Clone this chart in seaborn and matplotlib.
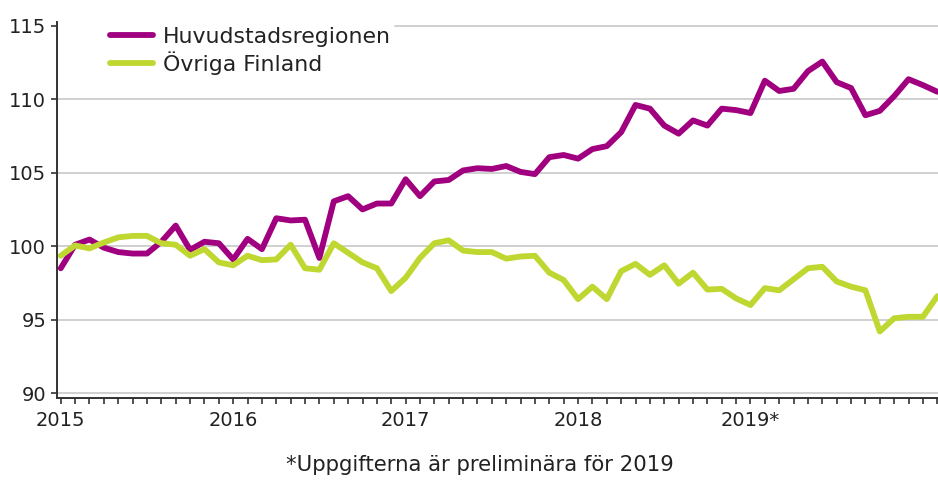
import pandas as pd
import seaborn as sns
import matplotlib.pyplot as plt

# monthly index values, Jan 2015 onwards
huvudstad = [98.5, 100.1, 100.45, 99.9, 99.6, 99.5, 99.5, 100.3, 101.4, 99.75,
             100.3, 100.2, 99.1, 100.5, 99.8, 101.9, 101.75, 101.8, 99.2, 103.05,
             103.4, 102.5, 102.9, 102.9, 104.55, 103.4, 104.4, 104.5, 105.15, 105.3,
             105.25, 105.45, 105.05, 104.9, 106.05, 106.2, 105.95, 106.6, 106.8, 107.75,
             109.6, 109.35, 108.2, 107.65, 108.55, 108.2, 109.35, 109.25, 109.05, 111.25,
             110.55, 110.7, 111.9, 112.55, 111.15, 110.75, 108.9, 109.2, 110.2, 111.35,
             110.95, 110.5]
ovriga = [99.35, 100.05, 99.85, 100.25, 100.6, 100.7, 100.7, 100.2, 100.1, 99.35,
          99.8, 98.9, 98.7, 99.35, 99.05, 99.1, 100.1, 98.5, 98.4, 100.2,
          99.55, 98.9, 98.5, 96.95, 97.85, 99.2, 100.2, 100.4, 99.7, 99.6,
          99.6, 99.15, 99.3, 99.35, 98.2, 97.7, 96.4, 97.25, 96.4, 98.3,
          98.8, 98.05, 98.7, 97.45, 98.2, 97.05, 97.1, 96.45, 96.0, 97.15,
          97.0, 97.75, 98.5, 98.6, 97.6, 97.25, 97.0, 94.2, 95.1, 95.2,
          95.2, 96.6]

series_names = ["Huvudstadsregionen", "Övriga Finland"]
year_labels = ["2015", "2016", "2017", "2018", "2019*"]
y_ticks = [90, 95, 100, 105, 110, 115]
footnote = "*Uppgifterna är preliminära för 2019"

months = list(range(len(huvudstad)))
df = pd.DataFrame({
    "month": months * 2,
    "value": huvudstad + ovriga,
    "series": [series_names[0]] * len(huvudstad) + [series_names[1]] * len(ovriga),
})

sns.set_style("white")
plt.rcParams["font.family"] = ["DejaVu Sans"]
plt.rcParams["text.color"] = "#222222"

fig = plt.figure(figsize=(9.38, 4.8), dpi=100)
ax = fig.add_axes([57.3 / 938, 82 / 480, (938 - 57.3) / 938, 376 / 480])

palette = {series_names[0]: "#a0007f", series_names[1]: "#bfd730"}
sns.lineplot(data=df, x="month", y="value", hue="series", palette=palette,
             linewidth=4.2, ax=ax, legend=False, zorder=3)

ax.set_xlim(-0.24, 61.05)
ax.set_ylim(89.68, 115.24)

ax.set_xticks([0, 12, 24, 36, 48], labels=year_labels)
ax.set_xticks(months, minor=True)
ax.set_yticks(y_ticks)
ax.tick_params(axis="both", which="both", direction="out", length=4, width=1.2,
               color="#333333", labelsize=14, labelcolor="#222222")
ax.tick_params(axis="x", which="both", bottom=True, pad=5)
ax.tick_params(axis="y", left=True, pad=4)
ax.set_xlabel("")
ax.set_ylabel("")

for s in ["top", "right"]:
    ax.spines[s].set_visible(False)
for s in ["left", "bottom"]:
    ax.spines[s].set_color("#333333")
    ax.spines[s].set_linewidth(1.4)

grid_color = "#c8c8c8"
ax.yaxis.grid(True, color=grid_color, linewidth=1.2)
ax.set_axisbelow(True)
# top gridline is hidden behind the legend box, only its right part shows
ax.yaxis.get_gridlines()[-1].set_visible(False)
ax.axhline(y_ticks[-1], xmin=(395 - 57.3) / 880.7, xmax=1, color=grid_color,
           linewidth=1.2, zorder=0.5)

handles = [plt.Line2D([], [], color=palette[n], linewidth=4.2) for n in series_names]
leg = fig.legend(handles, series_names, loc="upper left",
                 bbox_to_anchor=(103.5 / 938, 1 - 20 / 480), borderaxespad=0,
                 fontsize=15.8, handlelength=1.95, handletextpad=0.47,
                 labelspacing=0.2, borderpad=0.3, frameon=False)

fig.text(0.512, 15 / 480, footnote, ha="center", va="center", fontsize=15.3)

fig.savefig("out.png", dpi=100)
